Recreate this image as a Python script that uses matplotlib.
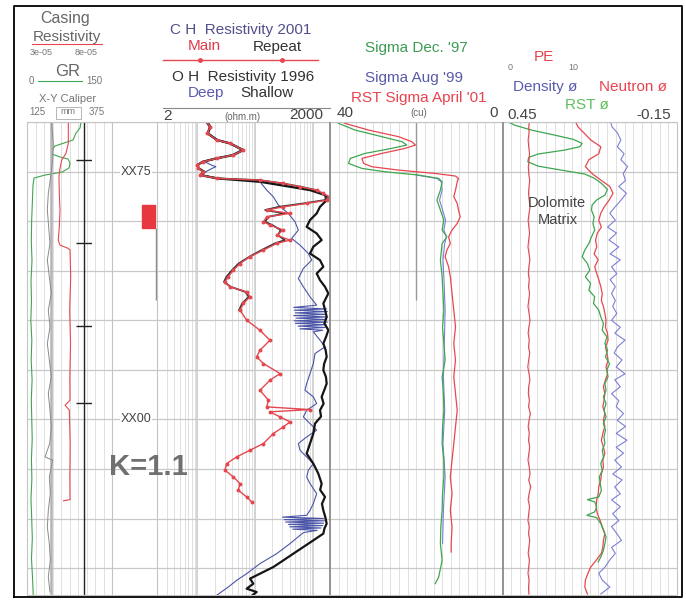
import numpy as np
import matplotlib.pyplot as plt
from matplotlib.patches import Rectangle

plt.rcParams['font.family'] = ['Liberation Sans', 'DejaVu Sans']

W, H = 686, 604                 # output size in pixels (dpi 100)
GRID_TOP, GRID_BOT = 122, 595   # pixel rows of the log grid
DEPTH_TOP, DEPTH_BOT = 70.0, 117.7

RED = '#e6474f'
GREEN = '#3fa650'
BLUE = '#4a55a8'
LBLUE = '#7c7fd6'
GRID = '#dadada'
TXT = '#555555'

# ---------------- data ----------------
depth_lines = [70, 75, 80, 85, 90, 95, 100, 105, 110, 115]
depth_labels = {75: 'XX75', 100: 'XX00'}
perf_top, perf_bot = 78.4, 80.7
marker_line = (80.7, 88.0)
collar_depths = [73.83, 82.21, 90.59, 98.36]
bit_size = 195.0

# track 1: GR (gAPI), caliper (mm), casing resistivity
gr_depth = [70.0, 70.61, 71.11, 71.82, 72.42, 72.83, 73.23, 73.53, 73.73, 74.14, 74.64, 75.05,
            75.35, 75.65, 76.36, 78, 80, 82, 84, 86, 88, 90, 92, 94, 96, 98, 100, 102, 104, 106,
            108, 110, 112, 114, 116, 117.7]
gr_vals = [95.3, 93.5, 86.5, 81.2, 49.4, 44.1, 44.1, 58.2, 72.4, 75.9, 74.1, 61.8,
           31.8, 12.4, 10.6, 9.5, 8.2, 7.6, 8.8, 7.1, 7.9, 6.8, 8.5, 7.4, 9.0, 7.6, 8.4, 9.2, 7.8, 8.6,
           7.0, 8.3, 9.4, 7.9, 9.8, 11.0]

cal_depth = [70.14, 72.16, 73.84, 75.52, 77.20, 78.88, 80.57, 82.25, 83.93, 85.61, 87.29, 88.98,
             90.66, 92.34, 94.02, 95.70, 97.38, 99.07, 100.75, 102.43, 103.78, 104.11, 105.79,
             107.48, 109.16, 110.84, 112.52, 114.21, 115.89, 117.40]
cal_vals = [197.5, 202.5, 200.5, 194.6, 187.7, 184.8, 188.7, 192.6, 184.8, 190.7, 196.5, 187.7,
            192.6, 184.8, 190.7, 196.5, 187.7, 192.6, 196.5, 191.7, 178.0, 200.5, 190.7,
            193.6, 187.7, 184.8, 190.7, 193.6, 187.7, 192.6]

cres_depth = [70.0, 72.16, 73.17, 73.84, 74.68, 75.52, 77.2, 78.89, 80.57, 81.91, 82.42, 82.75,
              82.92, 85.61, 88.97, 92.34, 95.7, 98.06, 98.56, 99.06, 102.43, 105.79, 108.08, 108.21]
cres_vals = [5.43e-5, 5.43e-5, 5.29e-5, 5.04e-5, 4.94e-5, 4.88e-5, 4.90e-5, 4.94e-5, 4.90e-5,
             4.84e-5, 4.94e-5, 5.43e-5, 5.53e-5, 5.57e-5, 5.51e-5, 5.56e-5, 5.52e-5, 5.53e-5,
             5.24e-5, 5.49e-5, 5.54e-5, 5.52e-5, 5.53e-5, 5.14e-5]

# track 2: resistivity (ohm.m)
ch_depth = [69.80, 70.48, 71.15, 71.82, 72.16, 72.83, 73.34, 73.67, 74.01, 74.34, 74.68, 75.02,
            75.35, 75.69, 75.86, 76.19, 76.53, 76.87, 77.20, 77.54, 77.88, 78.21, 78.55, 78.88,
            79.22, 79.56, 80.06, 80.40, 80.90, 81.41, 81.91, 82.25, 82.92, 83.59, 84.27, 84.94,
            85.61, 86.12, 86.62, 87.13, 87.63, 88.30, 88.98, 89.99, 91.00, 92.01, 93.01, 93.69,
            94.36, 95.37, 96.04, 97.05, 98.06, 98.73, 99.00, 99.23, 99.74, 100.24, 100.75, 101.42,
            102.43, 103.10, 103.77, 104.45, 105.12, 105.79, 106.46, 107.14, 107.81, 108.31]
ch_main = [13.6, 16.6, 14.9, 21.7, 36.9, 62.8, 42.1, 21.7, 12.7, 9.75, 10.4, 12.7,
           11.1, 21.7, 122, 310, 604, 1175, 1532, 1950, 1751, 788, 310, 160,
           405, 160, 140, 182, 310, 238, 405, 238, 140, 82, 55, 42.1,
           34.5, 30.2, 36.9, 71.8, 82, 62.8, 55, 71.8, 122, 182, 122, 107,
           140, 272, 182, 122, 171, 160, 900, 182, 272, 405, 310, 208,
           140, 82, 48.1, 32.3, 30.2, 42.1, 55, 51.4, 71.8, 87.6]
ch_repeat = [14.0, 17.0, 15.5, 22.5, 38, 60, 40, 21, 12.2, 10.0, 10.8, 13.5,
             11.5, 23, 118, 300, 620, 1150, 1450, 1800, 1600, 700, 260, 150,
             330, 170, 150, 200, 280, 250, 330, 220, 130, 80, 52, 40,
             32, 29, 38, 68, 78, 60, 53]

deep_depth = [69.80, 70.48, 71.15, 71.82, 72.16, 72.83, 73.34, 73.67, 74.01, 74.34, 74.51, 74.68,
              75.02, 75.35, 75.69, 75.86, 76.03, 76.87, 77.54, 78.38, 79.22, 80.06, 80.90, 81.74,
              82.42, 83.26, 83.93, 84.77, 85.78, 86.62, 87.63, 88.47,
              88.70, 88.85, 88.98, 89.12, 89.25, 89.40, 89.52, 89.66, 89.78, 89.92, 90.05, 90.18,
              90.30, 90.44, 90.58, 90.72, 90.86, 91.00,
              91.16, 92.00, 92.67, 93.35, 94.36, 95.37, 96.37, 97.05, 97.72, 98.39, 99.07, 99.74,
              100.41, 101.08, 101.76, 102.43, 103.10, 103.78, 104.45, 105.12, 105.79, 106.47,
              107.48, 108.49, 109.16, 109.66,
              109.85, 109.98, 110.10, 110.22, 110.34, 110.46, 110.58, 110.70, 110.82, 110.94,
              111.06, 111.18, 111.40,
              111.68, 112.52, 113.53, 114.54, 115.55, 116.22, 116.89, 117.73]
oh_deep = [13.2, 16.0, 15.2, 21.0, 35.0, 60.0, 41.0, 22.0, 13.5, 17.5, 21.0, 18.0,
           14.0, 12.0, 24.0, 80.0, 122, 160, 208, 254, 379, 494, 565, 433,
           604, 842, 962, 690, 565, 690, 900, 1175,
           470, 1750, 480, 1800, 500, 1750, 470, 1800, 520, 1750, 480, 1800,
           500, 1700, 560, 1650, 600, 1500,
           1028, 1342, 1638, 1099, 1028, 900, 788, 737, 1028, 1175, 788, 690,
           900, 1175, 788, 565, 604, 788, 1028, 842, 788, 900,
           1175, 1028, 900, 788,
           300, 1550, 320, 1600, 340, 1550, 380, 1500, 400, 1400,
           450, 1200, 700,
           604, 405, 238, 122, 71.8, 48.1, 34.5, 21.7]

shallow_depth = [69.80, 70.48, 71.15, 71.82, 72.16, 72.83, 73.34, 73.67, 74.01, 74.34, 74.68,
                 75.02, 75.35, 75.69, 76.03, 76.53, 76.87, 77.37, 77.88, 78.55, 79.22, 79.89,
                 80.57, 81.24, 81.91, 82.58, 83.26, 83.93, 84.60, 85.28, 85.95, 86.62, 87.29,
                 88.30, 89.00, 89.65, 90.30, 90.99, 91.70, 92.34, 93.00, 93.69, 94.40, 95.03,
                 95.70, 96.38, 97.00, 97.72, 98.40, 99.07, 99.70, 100.41, 101.42, 102.43, 103.44,
                 104.45, 105.46, 106.47, 107.10, 107.81, 108.50, 109.16, 109.80, 110.50, 111.00,
                 111.51, 112.19, 112.86, 113.53, 114.21, 114.88, 115.55, 116.05, 116.56, 117.06,
                 117.40, 117.91]
oh_shallow = [14.0, 16.8, 15.0, 22.0, 37.0, 63.0, 42.0, 21.5, 12.5, 10.0, 10.6,
              12.9, 11.3, 22.0, 122, 405, 900, 1638, 1751, 1342, 1175, 900,
              788, 1175, 1433, 1028, 900, 1342, 1532, 1175, 1342, 1638, 1872,
              1532, 1650, 1751, 1600, 1872, 1700, 1532, 1680, 1751, 1580, 1532,
              1700, 1751, 1600, 1433, 1550, 1342, 1400, 1099, 1028, 900, 788,
              1028, 1255, 1433, 1350, 1638, 1450, 1532, 1650, 1751, 1600,
              1532, 1028, 690, 463, 310, 208, 122, 82, 93.7, 71.8,
              107, 82]

# track 3: sigma (cu)
sig97_depth = [69.80, 70.14, 70.81, 71.48, 71.99, 72.33, 72.66, 73.17, 73.67, 74.18, 74.68, 75.02,
               75.35, 75.69, 76.03, 76.87, 77.88, 78.88, 79.89, 80.90, 81.58, 82.25, 83.93, 85.61,
               87.3, 88.98, 90.7, 92.34, 94.0, 95.70, 97.4, 99.07, 100.8, 102.43, 104.1, 105.79,
               107.5, 109.16, 110.8, 112.52, 114.21, 115.89, 116.56]
sig97 = [39.0, 38.0, 34.2, 28.0, 23.3, 22.2, 25.7, 31.9, 35.3, 35.7, 32.6, 27.2,
         19.5, 14.8, 14.0, 14.4, 15.2, 14.4, 13.6, 14.0, 12.9, 14.0, 14.4, 14.0,
         13.8, 13.6, 13.9, 13.6, 13.3, 14.0, 13.7, 13.6, 13.9, 14.0, 13.6, 13.6,
         13.9, 14.0, 14.3, 14.4, 14.0, 14.8, 15.6]

sig99_depth = [75.35, 75.69, 76.03, 76.87, 77.88, 78.88, 79.89, 80.90, 81.58, 82.25, 83.93, 85.61,
               88.98, 92.34, 95.70, 99.07, 102.43, 105.79, 109.16, 112.52]
sig99 = [20.0, 15.2, 14.2, 14.0, 14.6, 13.9, 13.2, 13.6, 13.0, 13.4, 13.8, 13.6,
         13.3, 13.5, 13.7, 13.4, 13.8, 13.3, 13.7, 13.9]

sig01_depth = [69.80, 70.14, 70.81, 71.48, 71.99, 72.33, 72.66, 73.17, 73.67, 74.18, 74.51, 74.85,
               75.19, 75.45, 75.69, 76.03, 76.87, 77.54, 78.21, 78.88, 79.56, 80.23, 80.90, 81.58,
               82.25, 82.92, 83.59, 84.60, 85.61, 87.29, 88.98, 90.66, 92.34, 94.02, 95.70, 97.38,
               99.07, 100.75, 102.43, 104.11, 105.79, 107.48, 109.16, 110.84, 112.52, 113.36]
sig01 = [38.1, 36.5, 31.1, 24.1, 21.0, 20.2, 22.6, 28.0, 32.6, 32.2, 30.3, 24.1,
         15.6, 10.9, 10.2, 10.5, 10.9, 11.3, 10.5, 10.2, 9.8, 10.5, 11.7, 12.5,
         12.1, 12.9, 13.3, 12.5, 12.1, 11.7, 11.3, 10.9, 11.3, 10.9, 11.3, 10.9,
         10.5, 10.9, 11.3, 11.7, 12.1, 11.7, 12.1, 11.7, 11.9, 11.9]

# track 4: porosity (v/v) and PE
por_depth = [69.8, 70.5, 71.1, 71.8, 72.5, 73.2, 73.8, 74.5, 75.2, 75.9,
             76.5, 77.2, 77.9, 78.6, 79.2, 79.9, 80.6, 81.2, 81.9, 82.6,
             83.3, 83.9, 84.6, 85.3, 85.9, 86.6, 87.3, 88.0, 88.6, 89.3,
             90.0, 90.7, 91.3, 92.0, 92.7, 93.3, 94.0, 94.7, 95.4, 96.0,
             96.7, 97.4, 98.1, 98.7, 99.4, 100.1, 100.7, 101.4, 102.1, 102.8,
             103.4, 104.1, 104.8, 105.5, 106.1, 106.8, 107.5, 108.1, 108.8, 109.5,
             110.2, 110.8, 111.5, 112.2, 112.9, 113.5, 114.2, 114.9, 115.5, 116.2,
             116.9, 117.6]
density_phi = [0.081, 0.073, 0.055, 0.043, 0.055, 0.032, 0.043, 0.020, 0.035, 0.027,
               0.050, 0.024, 0.043, 0.064, 0.081, 0.062, 0.089, 0.058, 0.084, 0.050,
               0.080, 0.045, 0.075, 0.057, 0.080, 0.062, 0.075, 0.062, 0.071, 0.057,
               0.075, 0.045, 0.064, 0.029, 0.055, 0.066, 0.039, 0.059, 0.029, 0.064,
               0.045, 0.075, 0.050, 0.059, 0.034, 0.055, 0.027, 0.059, 0.022, 0.059,
               0.034, 0.064, 0.041, 0.071, 0.039, 0.064, 0.045, 0.075, 0.045, 0.071,
               0.050, 0.075, 0.057, 0.041, 0.075, 0.062, 0.082, 0.098, 0.119, 0.107,
               0.081, 0.112]
neutron_phi = [0.202, 0.190, 0.170, 0.147, 0.112, 0.119, 0.153, 0.165, 0.142, 0.110,
               0.081, 0.070, 0.084, 0.101, 0.112, 0.119, 0.110, 0.124, 0.130, 0.126,
               0.135, 0.121, 0.133, 0.126, 0.119, 0.112, 0.107, 0.110, 0.103, 0.098,
               0.094, 0.096, 0.089, 0.087, 0.096, 0.091, 0.087, 0.094, 0.089, 0.096,
               0.103, 0.098, 0.101, 0.105, 0.098, 0.103, 0.098, 0.105, 0.110, 0.103,
               0.098, 0.105, 0.103, 0.110, 0.112, 0.119, 0.121, 0.126, 0.128, 0.124,
               0.114, 0.107, 0.098, 0.103, 0.105, 0.110, 0.128, 0.147, 0.156, 0.165,
               0.167, 0.158]
pe_vals = [1.55, 1.50, 1.52, 1.47, 1.50, 1.55, 1.52, 1.48, 1.50, 1.56,
           1.52, 1.49, 1.53, 1.58, 1.52, 1.47, 1.51, 1.55, 1.50, 1.46,
           1.52, 1.57, 1.51, 1.48, 1.53, 1.49, 1.55, 1.50, 1.46, 1.52,
           1.58, 1.51, 1.47, 1.53, 1.49, 1.56, 1.50, 1.45, 1.52, 1.57,
           1.50, 1.48, 1.54, 1.49, 1.60, 1.52, 1.47, 1.53, 1.49, 1.56,
           1.51, 1.46, 1.53, 1.58, 1.50, 1.62, 1.52, 1.47, 1.55, 1.50,
           1.46, 1.53, 1.49, 1.56, 1.51, 1.47, 1.54, 1.50, 1.46, 1.52,
           1.49, 1.51]

rst_depth = [69.80, 70.31, 70.81, 71.32, 71.75, 72.16, 72.49, 72.83, 73.23, 73.57, 74.01, 74.45,
             74.85, 75.25, 75.69, 76.19, 76.80, 77.37, 77.88, 78.38, 78.88, 79.56, 80.23, 80.90,
             81.58, 82.25, 82.92, 83.59, 84.27, 84.94, 85.61, 86.28, 86.96, 87.63, 88.30, 88.98,
             89.65, 90.32, 90.99, 91.67, 92.34, 93.01, 93.69, 94.36, 95.03, 95.70, 96.38, 97.05,
             97.72, 98.39, 99.07, 99.74, 100.41, 101.08, 101.76, 102.43, 103.10, 103.78, 104.45,
             105.12, 105.79, 106.47, 107.14, 107.81, 108.08, 108.31, 108.82, 109.32, 109.66,
             109.90, 110.50, 111.18, 111.85, 112.52, 113.19, 113.87, 114.37]
rst_phi = [0.443, 0.409, 0.351, 0.271, 0.207, 0.176, 0.184, 0.236, 0.328, 0.360, 0.363, 0.328,
           0.248, 0.167, 0.133, 0.110, 0.089, 0.098, 0.127, 0.142, 0.144, 0.135, 0.139, 0.133,
           0.144, 0.153, 0.167, 0.176, 0.158, 0.150, 0.165, 0.147, 0.153, 0.133, 0.137, 0.119,
           0.112, 0.103, 0.107, 0.091, 0.098, 0.089, 0.096, 0.082, 0.091, 0.087, 0.098, 0.094,
           0.103, 0.094, 0.101, 0.094, 0.103, 0.096, 0.101, 0.098, 0.107, 0.103, 0.112,
           0.107, 0.117, 0.114, 0.110, 0.119, 0.158, 0.133, 0.126, 0.133, 0.160,
           0.126, 0.112, 0.103, 0.094, 0.098, 0.103, 0.112, 0.121]


def track(fig, x0, x1, xlim, log=False):
    """axes covering pixel columns x0..x1 of the log grid, depth downwards"""
    ax = fig.add_axes([x0 / W, 1 - GRID_BOT / H, (x1 - x0) / W, (GRID_BOT - GRID_TOP) / H])
    if log:
        ax.set_xscale('log')
    ax.set_xlim(*xlim)
    ax.set_ylim(DEPTH_BOT, DEPTH_TOP)
    ax.set_axis_off()
    return ax


def grid(ax, xs):
    ax.vlines(xs, DEPTH_BOT, DEPTH_TOP, color=GRID, lw=0.6, zorder=0)
    for d in depth_lines:
        ax.axhline(d, color='#c8c8c8', lw=0.9, zorder=0)


fig = plt.figure(figsize=(W / 100, H / 100), dpi=100)
fig.patch.set_facecolor('white')

# track 1
ax_gr = track(fig, 27, 112, (0, 150))
grid(ax_gr, np.linspace(0, 150, 11))
ax_cal = track(fig, 27, 112, (125, 375))
ax_cal.axvline(bit_size, color='#b4b4b4', lw=1.8, zorder=1)
ax_cal.plot(cal_vals, cal_depth, color='#8a8a8a', lw=0.7)
ax_gr.plot(gr_vals, gr_depth, color=GREEN, lw=0.8)
ax_cr = track(fig, 27, 112, (3e-5, 8e-5))
ax_cr.plot(cres_vals, cres_depth, color=RED, lw=0.8)
ax_ccl = track(fig, 76, 92, (-1, 1))
ax_ccl.axvline(0, color='#222222', lw=1.0)
ax_ccl.hlines(collar_depths, -1, 1, color='#222222', lw=1.0)

# depth track
ax_dep = track(fig, 112, 157, (0, 1))
for d in depth_lines:
    ax_dep.axhline(d, color='#c8c8c8', lw=0.9, zorder=0)
for d, lab in depth_labels.items():
    ax_dep.text(0.53, d, lab, ha='center', va='center', fontsize=9, color='#444444',
                bbox=dict(facecolor='white', edgecolor='none', pad=0.6))
ax_dep.add_patch(Rectangle((0.667, perf_top), 0.29, perf_bot - perf_top, color='#e8383f'))
ax_dep.vlines(0.975, *marker_line, color='#8a8a8a', lw=1.0)

# resistivity track
ax_res = track(fig, 157, 330, (2, 2000), log=True)
res_ticks = [m * 10 ** e for e in range(0, 4) for m in range(1, 10) if 2 <= m * 10 ** e <= 2000]
grid(ax_res, res_ticks)
ax_res.vlines([10, 100, 1000], DEPTH_BOT, DEPTH_TOP, color='#cfcfcf', lw=1.2, zorder=0)
ax_res.plot(oh_deep, deep_depth, color=BLUE, lw=0.8)
ax_res.plot(oh_shallow, shallow_depth, color='#151515', lw=1.6)
ax_res.plot(ch_repeat, ch_depth[:len(ch_repeat)], color='#3a3a3a', lw=1.3)
ax_res.plot(ch_main, ch_depth, color=RED, lw=1.0, marker='o', ms=1.8)

# sigma track
ax_sig = track(fig, 330, 502.5, (40, 0))
grid(ax_sig, np.arange(0, 41, 2))
ax_sig.vlines(20, DEPTH_TOP, 88.0, color='#9a9a9a', lw=1.0)
ax_sig.plot(sig99, sig99_depth, color=LBLUE, lw=0.8)
ax_sig.plot(sig97, sig97_depth, color=GREEN, lw=0.9)
ax_sig.plot(sig01, sig01_depth, color=RED, lw=0.9)

# porosity track
ax_por = track(fig, 502.5, 677, (0.45, -0.15))
grid(ax_por, np.linspace(-0.15, 0.45, 21))
ax_pe = track(fig, 502.5, 677, (0, 10))
ax_pe.plot(pe_vals, por_depth, color=RED, lw=0.8)
ax_por.plot(density_phi, por_depth, color=LBLUE, lw=0.8)
ax_por.plot(neutron_phi, por_depth, color=RED, lw=0.9)
ax_por.plot(rst_phi, rst_depth, color=GREEN, lw=0.9)

# frame, track borders and header text in pixel coordinates
fr = fig.add_axes([0, 0, 1, 1])
fr.set_xlim(0, W)
fr.set_ylim(H, 0)
fr.set_axis_off()
fr.vlines([27, 112, 157, 677], GRID_TOP, GRID_BOT, color='#c4c4c4', lw=0.8)
fr.hlines([GRID_TOP, GRID_BOT], 27, 677, color='#c4c4c4', lw=0.8)
fr.vlines([330, 502.5], GRID_TOP, GRID_BOT, color='#8c8c8c', lw=1.3)
fr.plot([14, 14, 682, 682, 14], [597, 6, 6, 597, 597], color='black', lw=1.3)


def label(x, y, s, size=11, color=TXT, **kw):
    fr.text(x, y, s, ha='center', va='center', fontsize=size, color=color, **kw)


label(65, 19, 'Casing', 11.5, '#666666')
label(67, 37, 'Resistivity', 11, '#666666')
fr.plot([32, 102], [44, 44], color=RED, lw=0.8)
label(41, 52.5, '3e-05', 6.5, '#777777')
label(86, 52.5, '8e-05', 6.5, '#777777')
label(68, 71, 'GR', 12, '#666666')
label(31, 81, '0', 7, '#777777')
fr.plot([38, 82], [81, 81], color=GREEN, lw=0.8)
label(94, 81, '150', 7, '#777777')
label(68, 98.5, 'X-Y Caliper', 8, '#777777')
label(37, 112, '125', 7, '#777777')
label(68, 112, 'mm', 6.5, '#777777')
fr.add_patch(Rectangle((56, 107), 25, 12, fill=False, edgecolor='#aaaaaa', lw=0.6))
label(97, 112, '375', 7, '#777777')

label(241, 30, 'C H  Resistivity 2001', 11, '#50508a')
label(204, 46.5, 'Main', 11, '#e03c4a')
label(277, 46.5, 'Repeat', 11, '#333333')
fr.plot([163, 318], [60, 60], color=RED, lw=1.0)
fr.plot([200, 282], [60, 60], 'o', color=RED, ms=2.5)
label(243, 77, 'O H  Resistivity 1996', 11, '#333333')
label(206, 93, 'Deep', 11, '#5a5ab0')
label(267, 93, 'Shallow', 11, '#333333')
fr.plot([163, 330], [108, 108], color='#888888', lw=0.8)
label(167, 116, '2', 11, '#444444')
label(242, 116.5, '(ohm.m)', 7, '#666666')
label(306, 115, '2000', 11, '#444444')

label(416, 48, "Sigma Dec. '97", 11, '#3d9b55')
label(414, 78, "Sigma Aug '99", 11, '#5a5aa8')
label(419, 98, "RST Sigma April '01", 11, '#e8424e')
label(345, 113, '40', 11, '#444444')
label(419, 113, '(cu)', 7, '#666666')
label(494, 113, '0', 11, '#444444')

label(544, 57, 'PE', 11, '#e8424e')
label(510, 67, '0', 6.5, '#777777')
label(573, 67, '10', 6.5, '#777777')
label(545, 87, 'Density ø', 11, '#5a5ab0')
label(633, 87, 'Neutron ø', 11, '#e8424e')
label(587, 105, 'RST ø', 11, '#5cc05c')
label(522, 115, '0.45', 11, '#444444')
label(654, 115, '-0.15', 11, '#444444')

label(557, 203, 'Dolomite', 10.5, '#444444')
label(558, 220, 'Matrix', 10.5, '#444444')
label(148, 467, 'K=1.1', 21, '#707070', fontweight='bold')

fig.savefig('out.png', dpi=100)
